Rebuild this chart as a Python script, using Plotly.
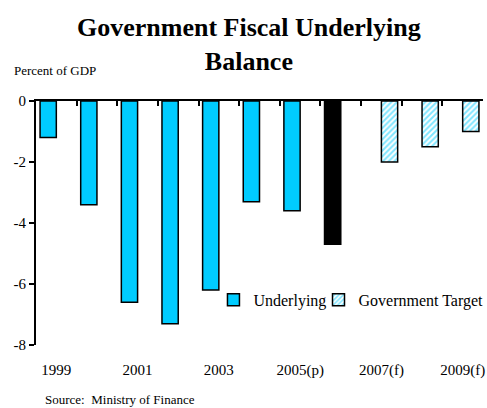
import plotly.graph_objects as go

categories = ["1999", "2000", "2001", "2002", "2003", "2004", "2005(p)", "2006", "2007(f)", "2008", "2009(f)"]
underlying = [-1.2, -3.4, -6.6, -7.3, -6.2, -3.3, -3.6, -4.7, None, None, None]
target = [None, None, None, None, None, None, None, None, -2.0, -1.5, -1.0]
underlying_colors = ["#00CCFF"] * 7 + ["#000000"] + ["#00CCFF"] * 3
tick_labels = ["1999", "2001", "2003", "2005(p)", "2007(f)", "2009(f)"]
y_ticks = [0, -2, -4, -6, -8]
y_tick_text = ["0", "-2", "-4", "-6", "-8"]

FONT = "Liberation Serif"
CYAN = "#00CCFF"

fig = go.Figure()
fig.add_trace(go.Bar(
    x=categories, y=underlying, name="Underlying", legend="legend",
    marker=dict(color=underlying_colors, line=dict(color="black", width=1.5)),
))
fig.add_trace(go.Bar(
    x=categories, y=target, name="Government Target", legend="legend2",
    marker=dict(color="white", line=dict(color="black", width=1.5),
                pattern=dict(shape="/", fgcolor=CYAN, bgcolor="white", size=4, solidity=0.5)),
))
# invisible helper trace for the top boundary axis
fig.add_trace(go.Scatter(x=[-0.5, 10.5], y=[0, 0], xaxis="x2", mode="lines",
                         line=dict(width=0), showlegend=False, hoverinfo="skip"))

legend_style = dict(orientation="h", y=0.185, xanchor="left", yanchor="middle",
                    font=dict(family=FONT, size=16), bgcolor="rgba(0,0,0,0)",
                    itemwidth=30, tracegroupgap=0, borderwidth=0)

fig.update_layout(
    width=487, height=408,
    margin=dict(l=36, r=4, t=101, b=63, autoexpand=False),
    paper_bgcolor="white", plot_bgcolor="white",
    font=dict(family=FONT, size=15, color="black"),
    barmode="group", bargap=0.2, bargroupgap=0,
    showlegend=True,
    legend=dict(x=0.397, **legend_style),
    legend2=dict(x=0.632, **legend_style),
    xaxis=dict(type="category", categoryorder="array", categoryarray=categories,
               tickvals=tick_labels, ticktext=tick_labels, ticks="", showline=False,
               showgrid=False, zeroline=False, ticklabelstandoff=14,
               range=[-0.5, 10.5]),
    xaxis2=dict(overlaying="x", anchor="y", side="top", range=[-0.5, 10.5],
                tickvals=[i + 0.5 for i in range(-1, 11)], ticks="inside", ticklen=5,
                tickwidth=2, tickcolor="black", showticklabels=False, showline=True,
                linewidth=2, linecolor="black", showgrid=False, zeroline=False),
    yaxis=dict(range=[-8, 0], tickvals=y_ticks, ticktext=y_tick_text, ticks="outside",
               ticklen=5, tickwidth=2, tickcolor="black", showline=True, linewidth=2,
               linecolor="black", showgrid=False, zeroline=False,
               tickfont=dict(family=FONT, size=15)),
    annotations=[
        dict(text="<b>Government Fiscal Underlying<br>Balance</b>", xref="paper", yref="paper",
             x=0.477, y=1.0, yshift=90, xanchor="center", yanchor="top", showarrow=False,
             font=dict(family=FONT, size=26)),
        dict(text="Percent of GDP", xref="paper", yref="paper", x=-0.054, y=1.0, yshift=31,
             xanchor="left", yanchor="middle", showarrow=False,
             font=dict(family=FONT, size=13)),
        dict(text="Source:  Ministry of Finance", xref="paper", yref="paper", x=0.016, y=0,
             yshift=-54, xanchor="left", yanchor="middle", showarrow=False,
             font=dict(family=FONT, size=13)),
    ],
)

fig.write_html("out.html")
